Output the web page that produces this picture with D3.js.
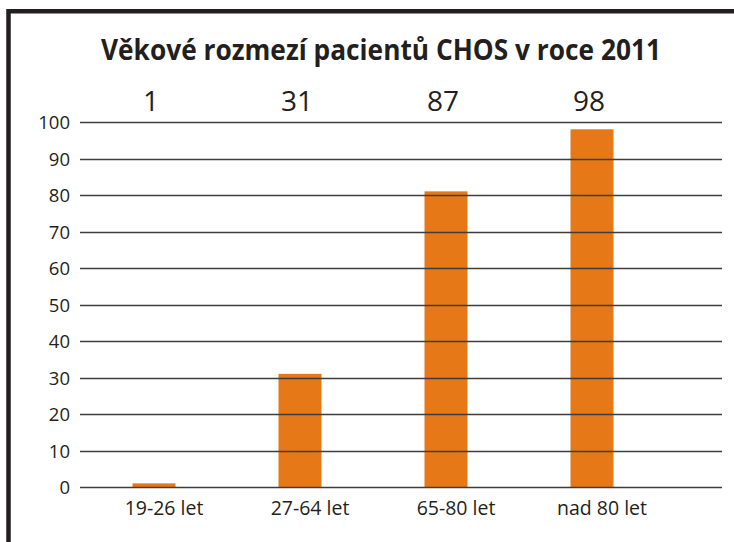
<!DOCTYPE html>
<html>
<head>
<meta charset="utf-8">
<script src="https://cdn.jsdelivr.net/npm/d3@7"></script>
<style>
  html, body { margin: 0; padding: 0; background: #fff; }
  svg { display: block; }
</style>
</head>
<body>
<svg id="chart" width="734" height="542"></svg>
<script>
const title = "Věkové rozmezí pacientů CHOS v roce 2011";
const categories = ["19-26 let", "27-64 let", "65-80 let", "nad 80 let"];
const values = [1, 31, 81, 98];
const valueLabels = ["1", "31", "87", "98"];
const yTicks = [0, 10, 20, 30, 40, 50, 60, 70, 80, 90, 100];

const svg = d3.select("#chart");
const font = "'Open Sans', 'DejaVu Sans', sans-serif";

// frame
svg.append("rect")
  .attr("x", 8.5).attr("y", 11.25)
  .attr("width", 900).attr("height", 800)
  .attr("fill", "#fff")
  .attr("stroke", "#231f20")
  .attr("stroke-width", 4.5);

const y = d3.scaleLinear().domain([0, 100]).range([487, 122]);
const x = d3.scaleBand().domain(categories).range([81, 665])
  .paddingInner(1 - 43 / 146).paddingOuter((1 - 43 / 146) / 2);

const gridX1 = 80, gridX2 = 722;

// title
svg.append("text")
  .attr("x", 381).attr("y", 60)
  .attr("text-anchor", "middle")
  .attr("font-family", font)
  .attr("font-weight", 700)
  .attr("font-size", 29)
  .attr("fill", "#231f20")
  .attr("textLength", 560)
  .attr("lengthAdjust", "spacingAndGlyphs")
  .text(title);

// bars
svg.append("g").selectAll("rect")
  .data(values)
  .join("rect")
  .attr("x", (d, i) => x(categories[i]))
  .attr("y", d => y(d))
  .attr("width", x.bandwidth())
  .attr("height", d => y(0) - y(d))
  .attr("fill", "#e77817");

// gridlines (drawn over bars)
svg.append("g").selectAll("line")
  .data(yTicks)
  .join("line")
  .attr("x1", gridX1).attr("x2", gridX2)
  .attr("y1", d => Math.round(y(d)) + 0.5)
  .attr("y2", d => Math.round(y(d)) + 0.5)
  .attr("stroke", "#3d3d3d")
  .attr("stroke-width", 1.4);

// y tick labels via axis
const yAxis = d3.axisLeft(y).tickValues(yTicks).tickSize(0).tickPadding(0);
const gy = svg.append("g").attr("transform", "translate(70,0)").call(yAxis);
gy.select(".domain").remove();
gy.selectAll("text")
  .attr("font-family", font)
  .attr("font-size", 18.5)
  .attr("fill", "#231f20")
  .attr("dy", "0.36em");

// x category labels via axis
const xAxis = d3.axisBottom(x).tickSize(0).tickPadding(0);
const gx = svg.append("g").attr("transform", "translate(10,0)").call(xAxis);
gx.select(".domain").remove();
gx.selectAll("text")
  .attr("font-family", font)
  .attr("font-size", 19.5)
  .attr("fill", "#231f20")
  .attr("y", 515)
  .attr("dy", 0);

// value labels
svg.append("g").selectAll("text")
  .data(valueLabels)
  .join("text")
  .attr("x", (d, i) => x(categories[i]) + x.bandwidth() / 2 - 3)
  .attr("y", 111)
  .attr("text-anchor", "middle")
  .attr("font-family", font)
  .attr("font-size", 28)
  .attr("fill", "#231f20")
  .text(d => d);
</script>
</body>
</html>
